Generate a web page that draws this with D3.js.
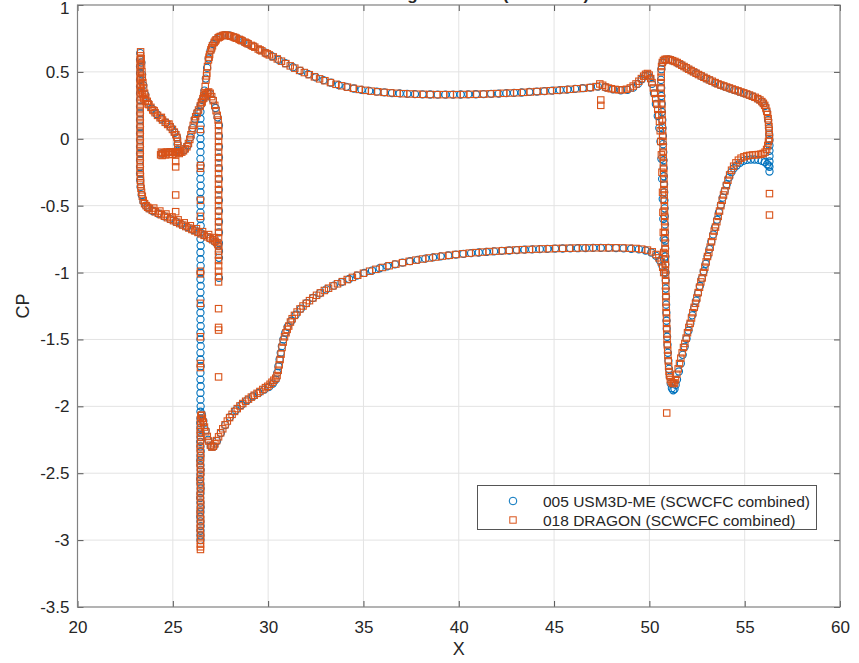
<!DOCTYPE html>
<html>
<head>
<meta charset="utf-8">
<script src="https://cdn.jsdelivr.net/npm/d3@7"></script>
<style>
  body { margin: 0; background: #fff; }
  svg text { font-family: "Liberation Sans", Arial, Helvetica, sans-serif; fill: #262626; }
</style>
</head>
<body>
<div id="chart"></div>
<script>
// ---- data (x, cp) ----
var seriesNames = ["005 USM3D-ME (SCWCFC combined)", "018 DRAGON (SCWCFC combined)"];
var xTicks = [20, 25, 30, 35, 40, 45, 50, 55, 60];
var yTicks = [-3.5, -3, -2.5, -2, -1.5, -1, -0.5, 0, 0.5, 1];
var titleText = "CP at Wing Section 4 (ETA = 0.4)";

var usmSlat = [
  [23.29,0.64],[23.28,0.59],[23.28,0.54],[23.28,0.49],[23.28,0.44],[23.28,0.39],[23.28,0.34],[23.28,0.29],[23.28,0.24],[23.28,0.19],
  [23.28,0.14],[23.28,0.09],[23.28,0.04],[23.28,-0.01],[23.28,-0.06],[23.28,-0.11],[23.28,-0.16],[23.28,-0.21],[23.28,-0.26],[23.29,-0.31],
  [23.31,-0.36],[23.37,-0.42],[23.46,-0.47],[23.58,-0.50],[23.72,-0.52],[23.95,-0.54],[24.25,-0.56],[24.55,-0.58],[24.85,-0.60],[25.15,-0.62],
  [25.45,-0.64],[25.75,-0.66],[26.05,-0.68],[26.35,-0.70],[26.65,-0.72],[26.95,-0.745],[27.20,-0.77],[27.38,-0.80],[27.42,-0.84],[27.42,-0.89],
  [27.42,-1.04],
  [23.35,0.57],[23.39,0.48],[23.45,0.40],[23.55,0.33],[23.70,0.27],[23.90,0.225],[24.15,0.185],[24.40,0.15],[24.65,0.12],[24.90,0.085],
  [25.10,0.045],[25.22,0.01],[25.25,-0.04],[25.25,-0.08],
  [24.40,-0.11],[24.60,-0.105],[24.80,-0.10],[25.00,-0.10],[25.20,-0.10],[25.40,-0.10],
  [25.60,-0.085],[25.78,-0.05],[25.92,0.01],[26.04,0.08],[26.16,0.15],[26.30,0.20],[26.48,0.255],[26.66,0.31],[26.82,0.34],[26.96,0.335],
  [27.10,0.29],[27.24,0.23],[27.35,0.16],
  [27.42,0.10],[27.42,0.02],[27.42,-0.06],[27.42,-0.14],[27.42,-0.22],[27.42,-0.30],[27.42,-0.38],[27.42,-0.46],[27.42,-0.54],[27.42,-0.62],
  [27.42,-0.70],[27.42,-0.78]
];

var usmMain = [
  // leading edge column
  [26.46,0.25],[26.45,0.20],[26.45,0.15],[26.46,0.10],[26.45,0.05],[26.45,0.00],[26.46,-0.05],[26.45,-0.10],[26.45,-0.15],[26.46,-0.20],
  [26.45,-0.25],[26.45,-0.30],[26.46,-0.35],[26.45,-0.40],[26.45,-0.45],[26.46,-0.50],[26.45,-0.55],[26.45,-0.60],[26.46,-0.65],[26.45,-0.70],
  [26.45,-0.75],[26.46,-0.80],[26.45,-0.85],[26.45,-0.90],[26.46,-0.95],[26.45,-1.00],[26.45,-1.05],[26.46,-1.10],[26.45,-1.15],[26.45,-1.20],
  [26.46,-1.25],[26.45,-1.30],[26.45,-1.35],[26.46,-1.40],[26.45,-1.45],[26.45,-1.50],[26.46,-1.55],[26.45,-1.60],[26.45,-1.65],[26.46,-1.70],
  [26.45,-1.75],[26.45,-1.80],[26.46,-1.85],[26.45,-1.90],[26.45,-1.95],[26.46,-2.00],[26.45,-2.04],
  [26.45,-2.09],[26.44,-2.125],[26.45,-2.16],[26.46,-2.195],[26.45,-2.23],[26.44,-2.265],[26.45,-2.30],[26.46,-2.335],[26.45,-2.37],[26.44,-2.405],
  [26.45,-2.44],[26.46,-2.475],[26.45,-2.51],[26.44,-2.545],[26.45,-2.58],[26.46,-2.615],[26.45,-2.65],[26.44,-2.685],[26.45,-2.72],[26.46,-2.755],
  [26.45,-2.79],[26.44,-2.825],[26.45,-2.86],[26.46,-2.895],[26.45,-2.93],[26.45,-2.965],[26.45,-3.00],
  // pressure side
  [26.55,0.29],[26.66,0.36],[26.73,0.45],[26.80,0.53],[26.88,0.60],[26.98,0.66],[27.12,0.71],[27.30,0.745],[27.50,0.765],[27.72,0.775],
  [27.95,0.772],[28.20,0.76],[28.45,0.745],[28.70,0.728],[28.95,0.71],[29.25,0.689],[29.55,0.665],[29.85,0.643],[30.20,0.617],[30.55,0.59],
  [30.90,0.565],[31.30,0.535],[31.70,0.508],[32.10,0.483],[32.50,0.46],[32.90,0.438],[33.30,0.419],[33.70,0.402],[34.10,0.388],[34.50,0.376],
  [34.90,0.366],[35.30,0.358],[35.70,0.352],[36.10,0.347],[36.50,0.342],[36.90,0.339],[37.30,0.336],[37.70,0.334],[38.10,0.332],[38.50,0.331],
  [38.90,0.33],[39.30,0.33],[39.70,0.33],[40.10,0.331],[40.50,0.332],[40.90,0.333],[41.30,0.334],[41.70,0.336],[42.10,0.338],[42.50,0.341],
  [42.90,0.343],[43.30,0.346],[43.70,0.35],[44.10,0.353],[44.50,0.356],[44.90,0.36],[45.30,0.364],[45.70,0.368],[46.10,0.373],[46.50,0.378],
  [46.90,0.383],[47.30,0.39],[47.70,0.385],[48.10,0.37],[48.50,0.362],[48.85,0.366],[49.15,0.382],[49.40,0.41],[49.60,0.445],[49.78,0.47],
  [49.92,0.475],[50.04,0.455],[50.14,0.41],[50.24,0.34],[50.34,0.26],[50.44,0.17],[50.52,0.08],[50.58,-0.02],[50.63,-0.15],[50.67,-0.30],
  [50.70,-0.45],[50.73,-0.60],[50.75,-0.75],[50.77,-0.90],
  // suction side
  [50.77,-1.00],[50.68,-0.95],[50.55,-0.91],[50.35,-0.875],[50.10,-0.85],[49.80,-0.835],[49.45,-0.827],[49.05,-0.822],[48.65,-0.819],[48.25,-0.817],
  [47.85,-0.816],[47.45,-0.816],[47.05,-0.816],[46.65,-0.817],[46.25,-0.818],[45.85,-0.819],[45.45,-0.82],[45.05,-0.821],[44.65,-0.823],[44.25,-0.825],
  [43.85,-0.827],[43.45,-0.829],[43.05,-0.832],[42.65,-0.835],[42.25,-0.838],[41.85,-0.842],[41.45,-0.846],[41.05,-0.85],[40.65,-0.855],[40.25,-0.86],
  [39.85,-0.866],[39.45,-0.872],[39.05,-0.879],[38.65,-0.887],[38.25,-0.896],[37.85,-0.905],[37.45,-0.915],[37.05,-0.926],[36.65,-0.939],[36.25,-0.953],
  [35.85,-0.968],[35.45,-0.985],[35.05,-1.003],[34.65,-1.023],[34.25,-1.048],[33.85,-1.072],[33.45,-1.098],[33.05,-1.126],[32.70,-1.156],[32.35,-1.19],
  [32.02,-1.228],[31.72,-1.27],[31.45,-1.315],[31.22,-1.36],[31.03,-1.405],[30.90,-1.45],[30.80,-1.50],[30.72,-1.55],[30.66,-1.60],[30.60,-1.65],
  [30.54,-1.70],[30.48,-1.75],[30.40,-1.80],[30.25,-1.83],[30.05,-1.855],[29.80,-1.875],[29.50,-1.90],[29.20,-1.925],[28.90,-1.955],[28.60,-1.99],
  [28.30,-2.03],[28.00,-2.08],[27.75,-2.14],[27.52,-2.20],[27.32,-2.26],[27.15,-2.30],[27.00,-2.30],[26.85,-2.25],[26.72,-2.18],[26.60,-2.11],
  [26.52,-2.06]
];

var usmFlap = [
  [50.63,0.52],[50.70,0.57],[50.82,0.59],[51.00,0.593],[51.20,0.585],[51.45,0.568],[51.70,0.55],[51.95,0.53],[52.20,0.51],[52.45,0.49],
  [52.70,0.47],[52.95,0.452],[53.20,0.435],[53.45,0.418],[53.70,0.403],[53.95,0.39],[54.20,0.377],[54.45,0.365],[54.70,0.353],[54.95,0.341],
  [55.20,0.328],[55.45,0.314],[55.70,0.297],[55.90,0.275],[56.05,0.245],[56.16,0.20],[56.23,0.14],[56.27,0.08],[56.29,0.03],
  [56.30,-0.01],[56.30,-0.05],[56.30,-0.09],[56.30,-0.13],[56.30,-0.17],[56.30,-0.21],[56.30,-0.245],
  [50.61,0.44],[50.62,0.38],[50.63,0.32],[50.65,0.26],[50.66,0.20],[50.68,0.14],[50.69,0.08],[50.71,0.02],[50.72,-0.04],[50.73,-0.10],
  [50.74,-0.16],[50.75,-0.22],[50.76,-0.28],[50.77,-0.34],[50.78,-0.40],[50.79,-0.46],[50.80,-0.52],[50.81,-0.58],[50.82,-0.64],[50.82,-0.70],
  [50.83,-0.76],[50.83,-0.82],[50.84,-0.88],[50.84,-0.94],[50.85,-1.00],[50.86,-1.06],[50.86,-1.12],[50.87,-1.18],[50.88,-1.24],[50.89,-1.30],
  [50.90,-1.36],[50.91,-1.42],[50.93,-1.48],[50.95,-1.54],[50.97,-1.60],[51.00,-1.66],[51.03,-1.72],[51.07,-1.78],[51.12,-1.83],[51.18,-1.865],
  [51.25,-1.88],[51.32,-1.87],[51.38,-1.84],
  [51.45,-1.80],[51.55,-1.74],[51.65,-1.68],[51.75,-1.615],[51.85,-1.555],[51.95,-1.495],[52.05,-1.435],[52.15,-1.38],[52.25,-1.32],[52.35,-1.265],
  [52.45,-1.21],[52.55,-1.155],[52.65,-1.10],[52.75,-1.045],[52.85,-0.99],[52.95,-0.935],[53.05,-0.88],[53.15,-0.825],[53.25,-0.77],[53.35,-0.715],
  [53.45,-0.66],[53.55,-0.605],[53.65,-0.55],[53.75,-0.495],[53.85,-0.44],[53.95,-0.39],[54.06,-0.34],[54.18,-0.29],[54.30,-0.25],[54.43,-0.22],
  [54.58,-0.20],[54.75,-0.18],[54.93,-0.165],[55.12,-0.158],[55.32,-0.155],[55.52,-0.155],[55.72,-0.158],[55.90,-0.165],[56.05,-0.175],[56.18,-0.19],
  [56.26,-0.20]
];

var dragonSlat = [
  [23.31,0.65],[23.30,0.62],[23.29,0.59],[23.29,0.56],[23.29,0.53],[23.29,0.50],[23.29,0.47],[23.29,0.44],[23.29,0.41],[23.29,0.38],
  [23.29,0.35],[23.29,0.32],[23.29,0.29],[23.29,0.26],[23.29,0.23],[23.29,0.20],[23.29,0.17],[23.29,0.14],[23.29,0.11],[23.29,0.08],
  [23.29,0.05],[23.29,0.02],[23.29,-0.01],[23.29,-0.04],[23.29,-0.07],[23.29,-0.10],[23.29,-0.13],[23.29,-0.16],[23.29,-0.19],[23.29,-0.22],
  [23.29,-0.25],[23.30,-0.28],[23.30,-0.31],[23.31,-0.34],[23.33,-0.37],[23.36,-0.40],[23.40,-0.43],[23.45,-0.46],[23.52,-0.485],[23.60,-0.50],
  [23.68,-0.512],[23.77,-0.522],
  [23.92,-0.535],[24.08,-0.546],[24.24,-0.557],[24.40,-0.568],[24.56,-0.579],[24.72,-0.590],[24.88,-0.601],[25.04,-0.612],[25.20,-0.623],[25.36,-0.634],
  [25.52,-0.645],[25.68,-0.656],[25.84,-0.667],[26.00,-0.678],[26.16,-0.689],[26.32,-0.700],[26.48,-0.711],[26.64,-0.722],[26.80,-0.733],[26.96,-0.744],
  [27.10,-0.755],[27.22,-0.765],[27.31,-0.776],[27.37,-0.790],[27.41,-0.805],
  [24.00,-0.518],[24.32,-0.540],[24.64,-0.562],[24.96,-0.584],[25.28,-0.606],[25.60,-0.628],[25.92,-0.650],[26.24,-0.672],[26.56,-0.694],[26.88,-0.716],
  [27.16,-0.738],
  [23.34,0.60],[23.36,0.55],[23.38,0.50],[23.40,0.46],[23.43,0.42],[23.47,0.38],[23.52,0.34],[23.58,0.31],[23.66,0.28],[23.75,0.255],
  [23.85,0.235],[23.95,0.215],[24.07,0.195],[24.20,0.175],[24.33,0.157],[24.46,0.14],[24.60,0.123],[24.73,0.107],[24.86,0.09],[24.98,0.07],
  [25.08,0.05],[25.16,0.03],[25.22,0.01],[25.25,-0.02],[25.26,-0.05],[25.26,-0.08],
  [23.31,0.45],[23.33,0.40],[23.36,0.36],[23.41,0.33],[23.48,0.30],[23.56,0.285],[23.70,0.26],[24.02,0.21],[24.40,0.16],[24.80,0.11],
  [24.36,-0.12],[24.40,-0.10],[24.48,-0.11],[24.57,-0.105],[24.66,-0.10],[24.75,-0.10],[24.84,-0.10],[24.93,-0.10],[25.02,-0.10],[25.11,-0.10],
  [25.20,-0.10],[25.29,-0.10],[25.38,-0.10],
  [24.44,-0.125],[24.62,-0.12],[24.80,-0.118],[24.98,-0.115],[25.16,-0.113],[25.34,-0.11],
  [25.47,-0.10],[25.56,-0.09],[25.65,-0.075],[25.74,-0.06],[25.82,-0.035],[25.89,-0.005],[25.95,0.03],[26.01,0.065],[26.07,0.10],[26.13,0.135],
  [26.20,0.165],[26.27,0.19],[26.35,0.215],[26.44,0.245],[26.54,0.275],[26.63,0.305],[26.72,0.33],[26.80,0.345],[26.88,0.35],[26.96,0.34],
  [27.04,0.315],[27.12,0.285],[27.20,0.25],[27.27,0.21],[27.33,0.175],[27.38,0.14],
  [27.40,0.10],[27.40,0.06],[27.40,0.02],[27.40,-0.02],[27.40,-0.06],[27.40,-0.10],[27.40,-0.14],[27.40,-0.18],[27.40,-0.22],[27.40,-0.26],
  [27.40,-0.30],[27.40,-0.34],[27.40,-0.38],[27.40,-0.42],[27.40,-0.46],[27.40,-0.50],[27.40,-0.54],[27.40,-0.58],[27.40,-0.62],[27.40,-0.66],
  [27.40,-0.70],[27.40,-0.74]
];

var dragonMain = [
  // pressure side
  [26.50,0.27],[26.58,0.30],[26.65,0.34],[26.70,0.39],[26.74,0.44],[26.78,0.49],[26.82,0.54],[26.87,0.59],[26.93,0.63],[27.00,0.665],
  [27.08,0.695],[27.17,0.72],[27.27,0.74],[27.38,0.755],[27.50,0.765],[27.63,0.772],[27.76,0.775],[27.90,0.773],[28.04,0.768],[28.18,0.761],
  [28.33,0.752],[28.48,0.743],[28.63,0.733],[28.79,0.722],[28.95,0.71],[29.12,0.698],[29.30,0.685],[29.48,0.671],[29.67,0.657],[29.86,0.642],
  [30.06,0.627],[30.27,0.612],[30.48,0.597],[30.70,0.58],[30.93,0.562],[31.16,0.545],[31.40,0.528],[31.65,0.511],[31.90,0.495],[32.16,0.479],
  [32.43,0.463],[32.70,0.448],[32.98,0.434],[33.27,0.42],[33.56,0.407],[33.86,0.396],[34.16,0.386],[34.47,0.377],[34.78,0.369],[35.10,0.362],
  [35.42,0.356],[35.75,0.351],[36.08,0.347],[36.42,0.343],[36.76,0.34],[37.10,0.337],[37.45,0.335],[37.80,0.333],[38.15,0.332],[38.50,0.331],
  [38.85,0.33],[39.20,0.33],[39.55,0.33],[39.90,0.33],[40.25,0.331],[40.60,0.332],[40.95,0.333],[41.30,0.334],[41.65,0.336],[42.00,0.338],
  [42.35,0.34],[42.70,0.342],[43.05,0.344],[43.40,0.347],[43.75,0.35],[44.10,0.353],[44.45,0.356],[44.80,0.359],[45.15,0.362],[45.50,0.366],
  [45.85,0.37],[46.20,0.374],[46.55,0.378],[46.90,0.383],[47.20,0.39],[47.40,0.41],[47.55,0.40],[47.70,0.387],[47.85,0.379],[48.00,0.374],
  [48.20,0.369],[48.40,0.366],[48.60,0.366],[48.80,0.37],[49.00,0.38],[49.15,0.394],[49.30,0.41],[49.45,0.43],[49.58,0.45],[49.70,0.468],
  [49.80,0.482],[49.90,0.488],[49.99,0.476],[50.07,0.45],[50.14,0.42],[50.21,0.38],[50.27,0.34],[50.33,0.30],[50.39,0.26],[50.44,0.22],
  [50.49,0.18],
  [26.62,0.32],[26.77,0.47],[26.90,0.61],[27.04,0.68],[27.22,0.73],[27.44,0.76],[27.70,0.774],[27.97,0.77],[28.26,0.757],[28.56,0.738],
  [28.87,0.716],[29.21,0.692],[29.58,0.664],[29.96,0.635],
  // trailing edge base
  [50.53,0.13],[50.57,0.06],[50.60,-0.02],[50.63,-0.12],[50.66,-0.25],[50.69,-0.40],[50.71,-0.55],[50.73,-0.70],[50.75,-0.85],
  // suction side
  [50.75,-1.00],[50.70,-0.96],[50.62,-0.92],[50.50,-0.89],[50.35,-0.865],[50.15,-0.845],[49.90,-0.832],[49.60,-0.825],[49.30,-0.82],[48.95,-0.818],
  [48.60,-0.816],[48.25,-0.815],[47.90,-0.815],[47.55,-0.815],[47.20,-0.815],[46.85,-0.816],[46.50,-0.816],[46.15,-0.817],[45.80,-0.818],[45.45,-0.819],
  [45.10,-0.82],[44.75,-0.822],[44.40,-0.823],[44.05,-0.825],[43.70,-0.827],[43.35,-0.829],[43.00,-0.831],[42.65,-0.834],[42.30,-0.837],[41.95,-0.84],
  [41.60,-0.843],[41.25,-0.847],[40.90,-0.851],[40.55,-0.855],[40.20,-0.86],[39.85,-0.865],[39.50,-0.871],[39.15,-0.877],[38.80,-0.884],[38.45,-0.891],
  [38.10,-0.899],[37.75,-0.907],[37.40,-0.916],[37.05,-0.926],[36.70,-0.937],[36.35,-0.949],[36.00,-0.962],[35.65,-0.976],[35.32,-0.99],[35.00,-1.005],
  [34.70,-1.02],[34.42,-1.036],[34.15,-1.052],[33.89,-1.068],[33.64,-1.084],[33.40,-1.10],[33.17,-1.117],[32.95,-1.134],[32.74,-1.152],[32.54,-1.17],
  [32.35,-1.19],[32.17,-1.21],[32.00,-1.23],[31.83,-1.25],[31.67,-1.272],[31.52,-1.295],[31.38,-1.32],[31.26,-1.345],[31.17,-1.37],[31.08,-1.40],
  [31.00,-1.425],[30.94,-1.45],[30.86,-1.48],[30.79,-1.52],[30.73,-1.56],[30.68,-1.61],[30.63,-1.65],[30.58,-1.69],[30.53,-1.73],[30.47,-1.77],
  [30.40,-1.79],[30.30,-1.805],[30.20,-1.82],[30.10,-1.835],[29.98,-1.85],[29.86,-1.86],[29.72,-1.874],[29.57,-1.889],[29.42,-1.903],[29.27,-1.917],
  [29.12,-1.931],[28.97,-1.946],[28.82,-1.962],[28.67,-1.979],[28.52,-1.997],[28.38,-2.017],[28.24,-2.038],[28.11,-2.06],[27.98,-2.084],[27.86,-2.11],
  [27.74,-2.138],[27.62,-2.168],[27.51,-2.198],[27.40,-2.228],[27.30,-2.256],[27.21,-2.28],[27.13,-2.298],[27.05,-2.305],[26.97,-2.29],[26.89,-2.26],
  [26.81,-2.225],[26.73,-2.19],[26.66,-2.155],[26.60,-2.12],[26.55,-2.09],[26.51,-2.065],
  // leading edge column
  [26.47,-2.07],[26.45,-2.10],[26.46,-2.13],[26.45,-2.16],[26.44,-2.19],[26.45,-2.22],[26.46,-2.25],[26.45,-2.28],[26.44,-2.31],[26.45,-2.34],
  [26.46,-2.37],[26.45,-2.40],[26.44,-2.43],[26.45,-2.46],[26.46,-2.49],[26.45,-2.52],[26.44,-2.55],[26.45,-2.58],[26.46,-2.61],[26.45,-2.64],
  [26.44,-2.67],[26.45,-2.70],[26.46,-2.73],[26.45,-2.76],[26.44,-2.79],[26.45,-2.82],[26.46,-2.85],[26.45,-2.88],[26.44,-2.91],[26.45,-2.94],
  [26.46,-2.97],[26.45,-3.00],[26.45,-3.03],[26.45,-3.05],[26.45,-3.07]
];

var dragonFlap = [
  // pressure side
  [50.62,0.50],[50.64,0.54],[50.68,0.57],[50.74,0.585],[50.82,0.593],[50.90,0.595],[51.00,0.594],[51.10,0.59],[51.22,0.584],[51.34,0.578],
  [51.46,0.57],[51.58,0.56],[51.70,0.55],[51.82,0.54],[51.94,0.53],[52.06,0.52],[52.19,0.51],[52.32,0.50],[52.45,0.49],[52.58,0.48],
  [52.72,0.47],[52.86,0.46],[53.00,0.45],[53.15,0.44],[53.30,0.43],[53.45,0.42],[53.60,0.41],[53.75,0.402],[53.90,0.395],[54.05,0.387],
  [54.20,0.38],[54.35,0.372],[54.50,0.365],[54.65,0.358],[54.80,0.35],[54.95,0.343],[55.10,0.335],[55.25,0.327],[55.40,0.318],[55.55,0.31],
  [55.68,0.30],[55.80,0.29],[55.90,0.278],[55.98,0.265],[56.05,0.25],[56.11,0.23],[56.16,0.205],[56.20,0.18],[56.23,0.15],[56.25,0.12],
  [56.27,0.09],[56.28,0.06],[56.29,0.03],[56.30,0.00],
  // suction side, leading edge down to the peak
  [50.62,0.46],[50.61,0.42],[50.61,0.38],[50.62,0.34],[50.63,0.30],[50.64,0.26],[50.65,0.22],[50.66,0.18],[50.67,0.14],[50.68,0.10],
  [50.69,0.06],[50.70,0.02],[50.71,-0.02],[50.72,-0.06],[50.72,-0.10],[50.73,-0.14],[50.74,-0.18],[50.74,-0.22],[50.75,-0.26],[50.76,-0.30],
  [50.76,-0.34],[50.77,-0.38],[50.78,-0.42],[50.78,-0.46],[50.79,-0.50],[50.79,-0.54],[50.80,-0.58],[50.80,-0.62],[50.81,-0.66],[50.81,-0.70],
  [50.82,-0.74],[50.82,-0.78],[50.83,-0.82],[50.83,-0.86],[50.84,-0.90],[50.84,-0.94],[50.84,-0.98],[50.85,-1.02],[50.85,-1.06],[50.86,-1.10],
  [50.86,-1.14],[50.87,-1.18],[50.87,-1.22],[50.88,-1.26],[50.89,-1.30],[50.90,-1.34],[50.90,-1.38],[50.91,-1.42],[50.92,-1.46],[50.93,-1.50],
  [50.94,-1.54],[50.96,-1.58],[50.97,-1.62],[50.99,-1.66],[51.01,-1.70],[51.03,-1.74],[51.06,-1.77],[51.10,-1.80],[51.15,-1.815],[51.21,-1.825],
  [51.27,-1.83],[51.32,-1.825],
  // suction side, recovery to trailing edge
  [51.37,-1.80],[51.44,-1.76],[51.51,-1.72],[51.58,-1.68],[51.65,-1.64],[51.72,-1.60],[51.79,-1.56],[51.86,-1.53],[51.93,-1.49],[52.00,-1.45],
  [52.07,-1.41],[52.14,-1.38],[52.21,-1.34],[52.28,-1.30],[52.35,-1.26],[52.42,-1.23],[52.49,-1.19],[52.56,-1.15],[52.63,-1.11],[52.70,-1.07],
  [52.77,-1.04],[52.84,-1.00],[52.91,-0.96],[52.98,-0.92],[53.05,-0.88],[53.12,-0.85],[53.19,-0.81],[53.26,-0.77],[53.33,-0.73],[53.40,-0.69],
  [53.47,-0.66],[53.54,-0.62],[53.61,-0.58],[53.68,-0.54],[53.75,-0.50],[53.82,-0.46],[53.89,-0.42],[53.96,-0.39],[54.04,-0.35],[54.12,-0.31],
  [54.21,-0.27],[54.31,-0.235],[54.42,-0.205],[54.54,-0.18],[54.67,-0.16],[54.81,-0.145],[54.96,-0.135],[55.11,-0.128],[55.26,-0.124],[55.41,-0.121],
  [55.56,-0.12],[55.71,-0.118],[55.85,-0.115],[55.97,-0.11],[56.07,-0.10],[56.15,-0.08],[56.21,-0.05],[56.25,-0.02]
];

// isolated DRAGON points away from the surfaces
var dragonStray = [
  [26.45,0.07],[26.45,-0.20],[26.45,-0.22],[26.45,-0.46],[26.45,-0.58],[26.45,-0.99],[26.45,-1.01],[26.45,-1.23],[26.45,-1.48],[26.45,-1.68],
  [26.45,-1.71],
  [27.40,-0.84],[27.40,-0.87],[27.40,-0.91],[27.40,-0.95],[27.40,-0.99],[27.40,-1.03],[27.40,-1.07],[27.40,-1.27],[27.40,-1.41],[27.40,-1.43],
  [27.40,-1.78],
  [25.15,-0.17],[25.15,-0.21],[25.15,-0.42],[25.15,-0.545],
  [47.45,0.29],[47.45,0.25],
  [50.91,-2.05],
  [56.30,-0.41],[56.30,-0.57]
];

var usmData = usmSlat.concat(usmMain, usmFlap);
var dragonData = dragonSlat.concat(dragonMain, dragonFlap, dragonStray);

// ---- layout ----
var width = 859, height = 663;
var plot = { left: 77.5, right: 840, top: 5, bottom: 607 };
var blue = "#0072BD", orange = "#D95319";

var xscale = d3.scaleLinear().domain([20, 60]).range([plot.left, plot.right]);
var yscale = d3.scaleLinear().domain([-3.5, 1]).range([plot.bottom, plot.top]);

var svg = d3.select("#chart")
    .append("svg")
    .attr("width", width)
    .attr("height", height);

// title: the screenshot only keeps the very bottom of it
svg.append("text")
    .attr("x", (plot.left + plot.right) / 2)
    .attr("y", 0)
    .attr("text-anchor", "middle")
    .style("font-size", "17px")
    .style("font-weight", "bold")
    .text(titleText);

// grid
var grid = svg.append("g").attr("class", "grid");
grid.selectAll(".gx")
    .data(xTicks.slice(1, -1))
    .enter().append("line")
    .attr("x1", function (d) { return xscale(d); })
    .attr("x2", function (d) { return xscale(d); })
    .attr("y1", plot.top).attr("y2", plot.bottom)
    .attr("stroke", "#e3e3e3").attr("stroke-width", 1);
grid.selectAll(".gy")
    .data(yTicks.slice(1, -1))
    .enter().append("line")
    .attr("y1", function (d) { return yscale(d); })
    .attr("y2", function (d) { return yscale(d); })
    .attr("x1", plot.left).attr("x2", plot.right)
    .attr("stroke", "#e3e3e3").attr("stroke-width", 1);

// series
var marks = svg.append("g").attr("class", "marks");
marks.selectAll("circle")
    .data(usmData)
    .enter().append("circle")
    .attr("cx", function (d) { return xscale(d[0]); })
    .attr("cy", function (d) { return yscale(d[1]); })
    .attr("r", 3.6)
    .attr("fill", "none")
    .attr("stroke", blue)
    .attr("stroke-width", 1.1);

var sq = 6.4;
marks.selectAll("rect")
    .data(dragonData)
    .enter().append("rect")
    .attr("x", function (d) { return xscale(d[0]) - sq / 2; })
    .attr("y", function (d) { return yscale(d[1]) - sq / 2; })
    .attr("width", sq).attr("height", sq)
    .attr("fill", "none")
    .attr("stroke", orange)
    .attr("stroke-width", 1.1);

// axes (ticks point inward, MATLAB style)
var fmt = function (d) { return String(d); };
var axisColor = "#808080";

var xAxis = svg.append("g")
    .attr("transform", "translate(0," + plot.bottom + ")")
    .call(d3.axisBottom(xscale).tickValues(xTicks).tickFormat(fmt).tickSize(-6).tickPadding(14));
var xAxisTop = svg.append("g")
    .attr("transform", "translate(0," + plot.top + ")")
    .call(d3.axisTop(xscale).tickValues(xTicks).tickFormat("").tickSize(-6));
var yAxis = svg.append("g")
    .attr("transform", "translate(" + plot.left + ",0)")
    .call(d3.axisLeft(yscale).tickValues(yTicks).tickFormat(fmt).tickSize(-6).tickPadding(8));
var yAxisRight = svg.append("g")
    .attr("transform", "translate(" + plot.right + ",0)")
    .call(d3.axisRight(yscale).tickValues(yTicks).tickFormat("").tickSize(-6));

[xAxis, xAxisTop, yAxis, yAxisRight].forEach(function (a) {
    a.select(".domain").remove();
    a.selectAll(".tick line").attr("stroke", "#555").attr("stroke-width", 1);
    a.selectAll(".tick text")
        .attr("fill", "#262626")
        .style("font-size", "17px")
        .style("font-family", "'Liberation Sans', Arial, Helvetica, sans-serif");
});
// keep the top label "1" inside the picture
yAxis.selectAll(".tick text").filter(function (d) { return d === 1; }).attr("dy", "0.52em");

svg.append("rect")
    .attr("x", plot.left).attr("y", plot.top)
    .attr("width", plot.right - plot.left)
    .attr("height", plot.bottom - plot.top)
    .attr("fill", "none")
    .attr("stroke", axisColor)
    .attr("stroke-width", 1.2);

// axis labels
svg.append("text")
    .attr("x", (plot.left + plot.right) / 2)
    .attr("y", 655)
    .attr("text-anchor", "middle")
    .style("font-size", "18px")
    .text("X");
svg.append("text")
    .attr("transform", "translate(29," + ((plot.top + plot.bottom) / 2) + ") rotate(-90)")
    .attr("text-anchor", "middle")
    .style("font-size", "18px")
    .text("CP");

// legend
var legend = svg.append("g").attr("class", "legend");
legend.append("rect")
    .attr("x", 477.5).attr("y", 485.5)
    .attr("width", 339).attr("height", 44)
    .attr("fill", "#fff")
    .attr("stroke", "#555")
    .attr("stroke-width", 1);
var rows = [501, 520];
legend.append("circle")
    .attr("cx", 513).attr("cy", rows[0]).attr("r", 3.8)
    .attr("fill", "none").attr("stroke", blue).attr("stroke-width", 1);
legend.append("rect")
    .attr("x", 513 - sq / 2).attr("y", rows[1] - sq / 2)
    .attr("width", sq).attr("height", sq)
    .attr("fill", "none").attr("stroke", orange).attr("stroke-width", 1);
legend.selectAll(".ltext")
    .data(seriesNames)
    .enter().append("text")
    .attr("x", 543)
    .attr("y", function (d, i) { return rows[i]; })
    .attr("dy", "0.36em")
    .style("font-size", "15.5px")
    .text(function (d) { return d; });
</script>
</body>
</html>
